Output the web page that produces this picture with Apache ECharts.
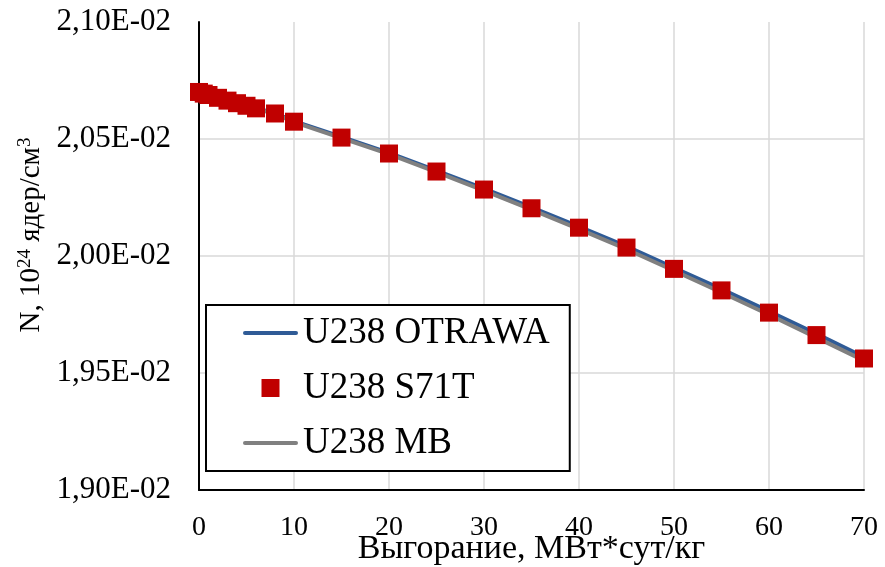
<!DOCTYPE html>
<html>
<head>
<meta charset="utf-8">
<script src="https://cdn.jsdelivr.net/npm/echarts@6/dist/echarts.min.js"></script>
<style>
  html, body { margin: 0; padding: 0; background: #fff; }
  #chart { width: 885px; height: 567px; }
</style>
</head>
<body>
<div id="chart"></div>
<script>
// выгорание, МВт*сут/кг
const burnup = [0, 0.5, 1, 2, 3, 4, 5, 6, 8, 10, 15, 20, 25, 30, 35, 40, 45, 50, 55, 60, 65, 70]
// концентрация U238, 10^24 ядер/см3
const otrawa = [0.020701, 0.020695, 0.020689, 0.020677, 0.020665, 0.020654, 0.020643, 0.020632, 0.020610, 0.020576,
  0.020509, 0.020441, 0.020365, 0.020288, 0.020208, 0.020126, 0.020041, 0.019950, 0.019859, 0.019764, 0.019668, 0.019568]
const s71t = [0.020701, 0.020694, 0.020688, 0.020676, 0.020664, 0.020653, 0.020642, 0.020631, 0.020609, 0.020574,
  0.020506, 0.020438, 0.020361, 0.020284, 0.020204, 0.020121, 0.020036, 0.019945, 0.019853, 0.019758, 0.019662, 0.019562]
const mb = [0.020701, 0.020694, 0.020688, 0.020676, 0.020664, 0.020652, 0.020641, 0.020630, 0.020607, 0.020572,
  0.020504, 0.020435, 0.020358, 0.020279, 0.020198, 0.020115, 0.020029, 0.019937, 0.019844, 0.019749, 0.019651, 0.019553]
const seriesNames = ['U238 OTRAWA', 'U238 S71T', 'U238 MB']

const font = "'Liberation Serif', 'Times New Roman', serif"

// формат как в Excel: 2,10E-02
function sciLabel(v) {
  const e = Math.floor(Math.log10(Math.abs(v)) + 1e-9)
  const m = v / Math.pow(10, e)
  return m.toFixed(2).replace('.', ',') + 'E' + (e < 0 ? '-' : '+') + String(Math.abs(e)).padStart(2, '0')
}

const pairs = arr => burnup.map((x, i) => [x, arr[i]])

// значки легенды
const lineIcon = 'path://M2,0 L53,0 A2,2 0 0 1 53,4 L2,4 A2,2 0 0 1 2,0 Z'
const squareIcon = 'path://M0,0 L17,0 L17,17 L0,17 Z'

const myChart = echarts.init(document.getElementById('chart'))
const option = {
  animation: false,
  backgroundColor: '#fff',
  grid: { left: 199, right: 21, top: 22, bottom: 77, containLabel: false, outerBoundsMode: 'none' },
  xAxis: {
    type: 'value',
    min: 0,
    max: 70,
    interval: 10,
    name: 'Выгорание, МВт*сут/кг',
    nameLocation: 'middle',
    nameGap: 42,
    nameMoveOverlap: false,
    nameTextStyle: { fontFamily: font, fontSize: 34, color: '#000' },
    axisLine: { lineStyle: { color: '#000', width: 2 } },
    axisTick: { show: false },
    axisLabel: { fontFamily: font, fontSize: 28, color: '#000', margin: 24 },
    splitLine: { show: true, lineStyle: { color: '#d9d9d9', width: 1.5 } }
  },
  yAxis: {
    type: 'value',
    min: 0.019,
    max: 0.021,
    interval: 0.0005,
    name: '{a|N, 10}{sup|24}{a| ядер/см}{sup|3}',
    nameLocation: 'middle',
    nameGap: 153,
    nameRotate: 90,
    nameTextStyle: {
      fontFamily: font,
      color: '#000',
      padding: [0, 0, 0, 42],
      rich: {
        a: { fontFamily: font, fontSize: 29, color: '#000', lineHeight: 30 },
        sup: { fontFamily: font, fontSize: 19, color: '#000', lineHeight: 19, verticalAlign: 'top' }
      }
    },
    axisLine: { show: true, lineStyle: { color: '#000', width: 2 } },
    axisTick: { show: false },
    axisLabel: { fontFamily: font, fontSize: 31, color: '#000', margin: 28, formatter: sciLabel },
    splitLine: {
      show: true,
      lineStyle: { color: ['#d9d9d9', '#d9d9d9', '#d9d9d9', '#d9d9d9', 'rgba(0,0,0,0)'], width: 1.5 }
    }
  },
  legend: {
    orient: 'vertical',
    left: 206,
    top: 305,
    data: [
      { name: seriesNames[0], icon: lineIcon },
      { name: seriesNames[1], icon: squareIcon },
      { name: seriesNames[2], icon: lineIcon }
    ],
    symbolKeepAspect: true,
    backgroundColor: '#fff',
    borderColor: '#000',
    borderWidth: 2,
    padding: [8, 20, 8, 37],
    itemWidth: 55,
    itemHeight: 18,
    itemGap: 15,
    textStyle: { fontFamily: font, fontSize: 37, color: '#000', lineHeight: 40 }
  },
  series: [
    {
      name: seriesNames[0],
      type: 'line',
      data: pairs(otrawa),
      symbol: 'none',
      lineStyle: { color: '#2f5b96', width: 4, cap: 'round' },
      itemStyle: { color: '#2f5b96' },
      z: 2
    },
    {
      name: seriesNames[2],
      type: 'line',
      data: pairs(mb),
      symbol: 'none',
      lineStyle: { color: '#808080', width: 4, cap: 'round' },
      itemStyle: { color: '#808080' },
      z: 3
    },
    {
      name: seriesNames[1],
      type: 'scatter',
      data: pairs(s71t),
      symbol: 'rect',
      symbolSize: 18,
      itemStyle: { color: '#c00000', opacity: 1 },
      z: 4
    }
  ]
}

option && myChart.setOption(option)
window.addEventListener('resize', () => {
  myChart.resize()
})
</script>
</body>
</html>
